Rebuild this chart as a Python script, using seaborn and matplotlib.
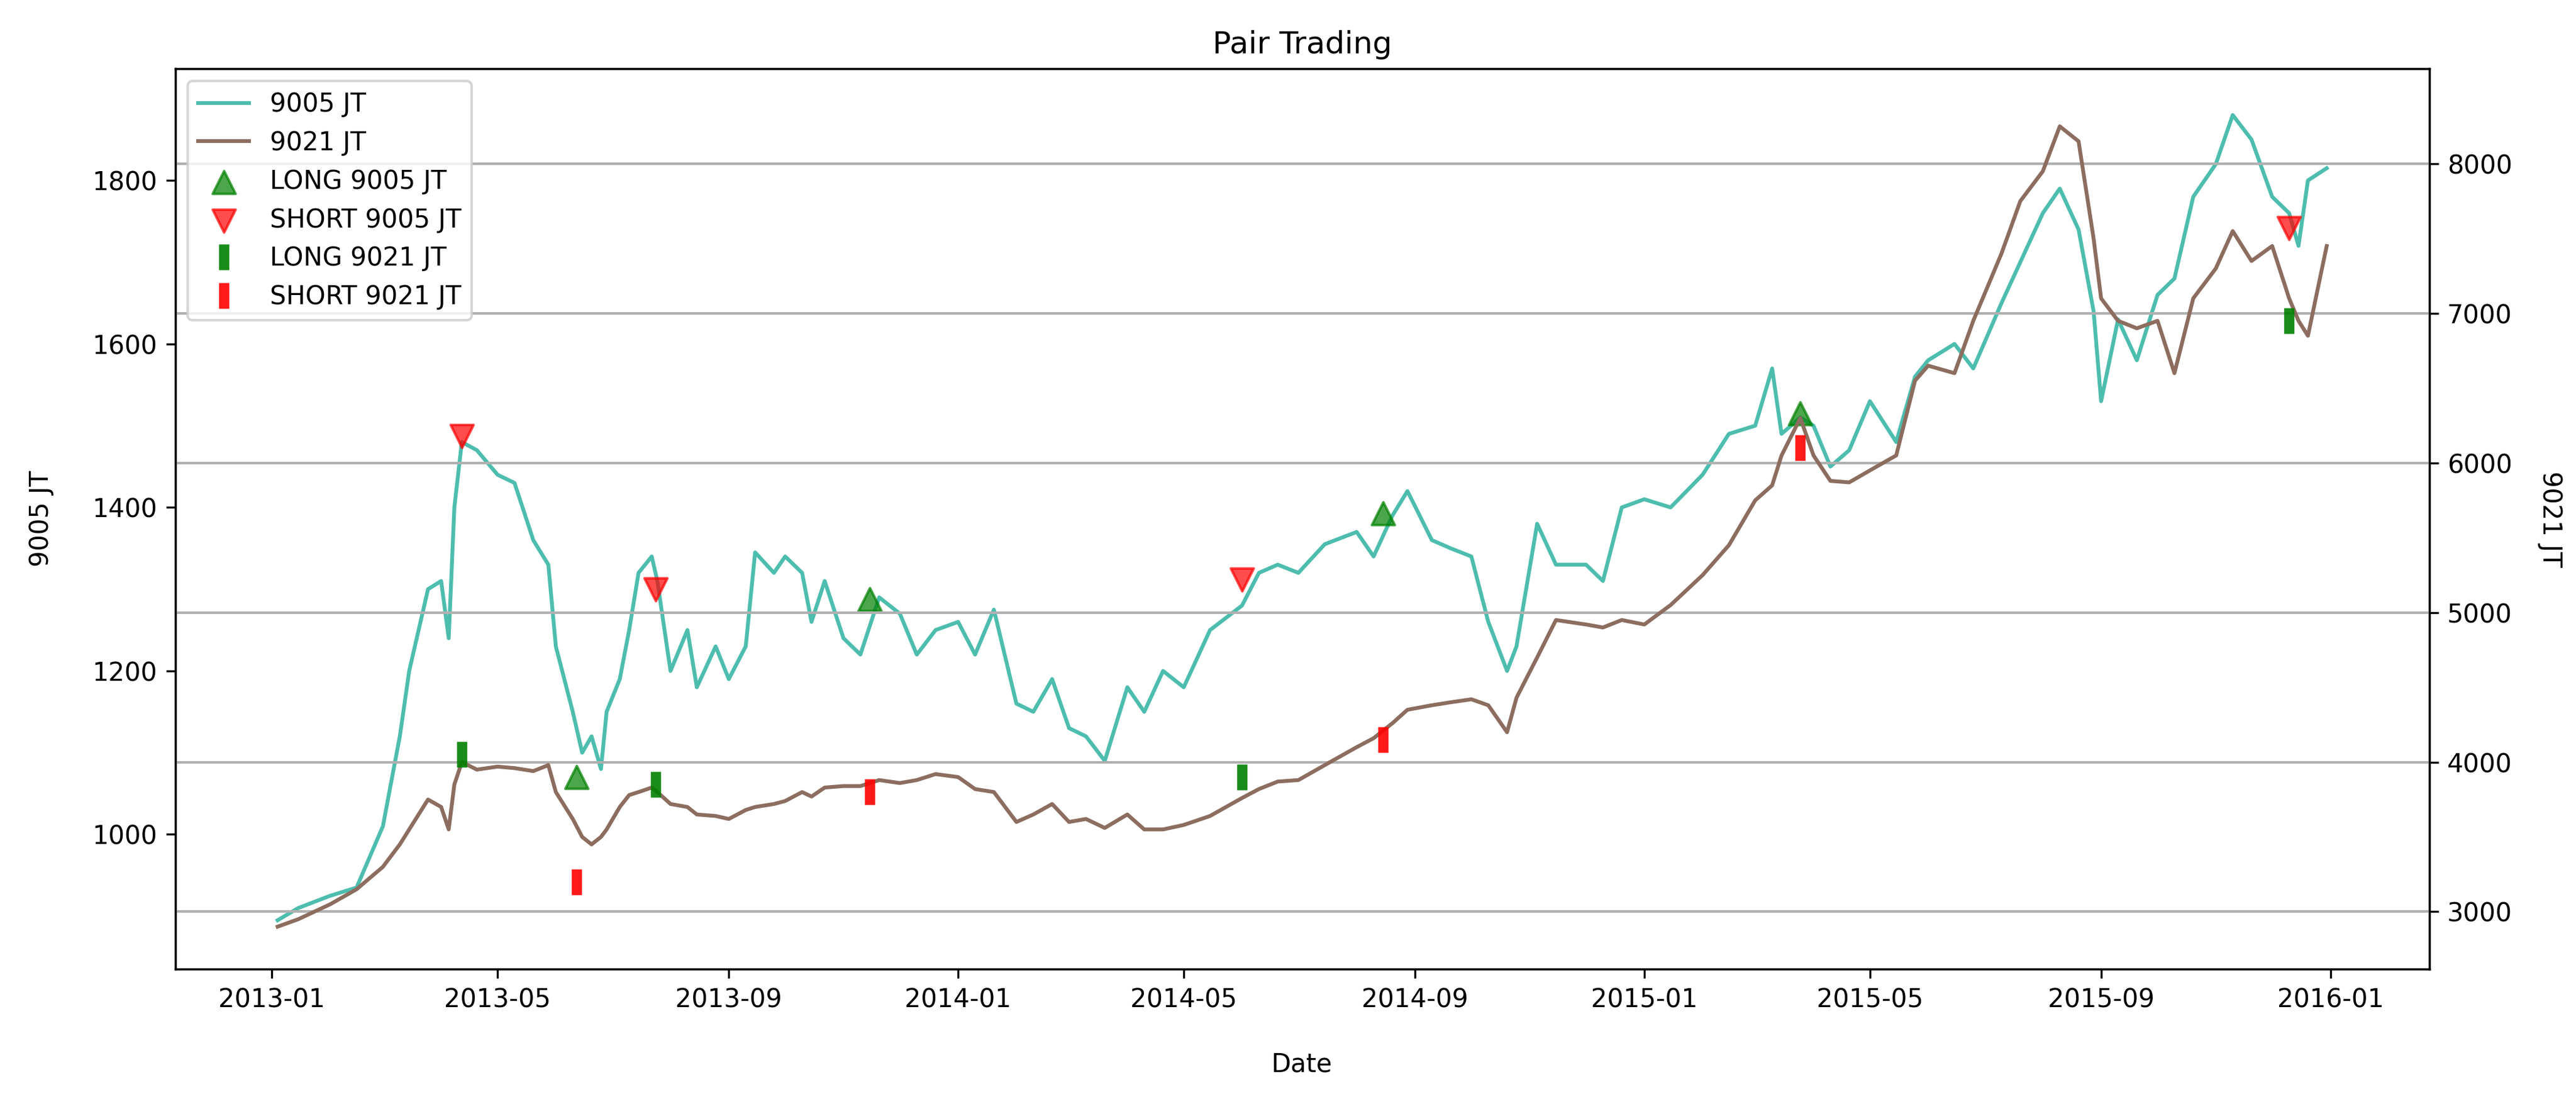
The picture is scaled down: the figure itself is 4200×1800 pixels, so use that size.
import matplotlib
matplotlib.use("Agg")
import matplotlib.pyplot as plt
import seaborn as sns
import pandas as pd

dates = ["2013-01-04","2013-01-15","2013-02-01","2013-02-15","2013-03-01","2013-03-10","2013-03-15","2013-03-25",
"2013-04-01","2013-04-05","2013-04-08","2013-04-12","2013-04-20","2013-05-01","2013-05-10","2013-05-20","2013-05-28",
"2013-06-01","2013-06-10","2013-06-15","2013-06-20","2013-06-25","2013-06-28","2013-07-05","2013-07-10","2013-07-15",
"2013-07-22","2013-07-25","2013-08-01","2013-08-10","2013-08-15","2013-08-25","2013-09-01","2013-09-10","2013-09-15",
"2013-09-25","2013-10-01","2013-10-10","2013-10-15","2013-10-22","2013-11-01","2013-11-10","2013-11-20","2013-12-01",
"2013-12-10","2013-12-20","2014-01-01","2014-01-10","2014-01-20","2014-02-01","2014-02-10","2014-02-20","2014-03-01",
"2014-03-10","2014-03-20","2014-04-01","2014-04-10","2014-04-20","2014-05-01","2014-05-15","2014-06-01","2014-06-10",
"2014-06-20","2014-07-01","2014-07-15","2014-08-01","2014-08-10","2014-08-20","2014-08-28","2014-09-10","2014-09-20",
"2014-10-01","2014-10-10","2014-10-20","2014-10-25","2014-11-05","2014-11-15","2014-12-01","2014-12-10","2014-12-20",
"2015-01-01","2015-01-15","2015-02-01","2015-02-15","2015-03-01","2015-03-10","2015-03-15","2015-03-25","2015-04-01",
"2015-04-10","2015-04-20","2015-05-01","2015-05-15","2015-05-25","2015-06-01","2015-06-15","2015-06-25","2015-07-10",
"2015-07-20","2015-08-01","2015-08-10","2015-08-20","2015-08-28","2015-09-01","2015-09-10","2015-09-20","2015-10-01",
"2015-10-10","2015-10-20","2015-11-01","2015-11-10","2015-11-20","2015-12-01","2015-12-10","2015-12-15","2015-12-20",
"2015-12-30"]

price_9005 = [895,910,925,935,1010,1120,1200,1300,1310,1240,1400,1480,1470,1440,1430,1360,1330,
1230,1150,1100,1120,1080,1150,1190,1250,1320,1340,1310,1200,1250,1180,1230,1190,1230,1345,
1320,1340,1320,1260,1310,1240,1220,1290,1270,1220,1250,1260,1220,1275,1160,1150,1190,1130,
1120,1090,1180,1150,1200,1180,1250,1280,1320,1330,1320,1355,1370,1340,1390,1420,1360,1350,
1340,1260,1200,1230,1380,1330,1330,1310,1400,1410,1400,1440,1490,1500,1570,1490,1510,1500,
1450,1470,1530,1480,1560,1580,1600,1570,1650,1700,1760,1790,1740,1640,1530,1630,1580,1660,
1680,1780,1820,1880,1850,1780,1760,1720,1800,1815]

price_9021 = [2900,2950,3050,3150,3300,3450,3550,3750,3700,3550,3850,4000,3950,3970,3960,3940,3980,
3800,3620,3500,3450,3500,3550,3700,3780,3800,3830,3800,3720,3700,3650,3640,3620,3680,3700,
3720,3740,3800,3770,3830,3840,3840,3880,3860,3880,3920,3900,3820,3800,3600,3650,3720,3600,
3620,3560,3650,3550,3550,3580,3640,3760,3820,3870,3880,3980,4100,4160,4260,4350,4380,4400,
4420,4380,4200,4430,4700,4950,4920,4900,4950,4920,5050,5250,5450,5750,5850,6050,6300,6050,
5880,5870,5950,6050,6550,6650,6600,6950,7400,7750,7950,8250,8150,7500,7100,6950,6900,6950,
6600,7100,7300,7550,7350,7450,7100,6950,6850,7450]

long_9005_dates = ["2013-06-12","2013-11-15","2014-08-15","2015-03-25"]
long_9005_vals = [1070,1288,1393,1515]
short_9005_dates = ["2013-04-12","2013-07-24","2014-06-01","2015-12-10"]
short_9005_vals = [1487,1300,1312,1742]
long_9021_dates = ["2013-04-12","2013-07-24","2014-06-01","2015-12-10"]
long_9021_vals = [4050,3850,3900,6950]
short_9021_dates = ["2013-06-12","2013-11-15","2014-08-15","2015-03-25"]
short_9021_vals = [3200,3800,4150,6100]

df = pd.DataFrame({"date": pd.to_datetime(dates), "a": price_9005, "b": price_9021})

c1 = "#4DBDAE"
c2 = "#8C6D5F"

fig, ax = plt.subplots(figsize=(14, 6), dpi=300)
fig.subplots_adjust(left=0.068, right=0.943, top=0.938, bottom=0.122)
ax2 = ax.twinx()

sns.lineplot(data=df, x="date", y="a", ax=ax, color=c1, lw=1.5, label="9005 JT", legend=False)
sns.lineplot(data=df, x="date", y="b", ax=ax2, color=c2, lw=1.5, label="9021 JT", legend=False)

h3 = ax.scatter(pd.to_datetime(long_9005_dates), long_9005_vals, marker="^", s=80, color="green", alpha=0.7, label="LONG 9005 JT", zorder=5)
h4 = ax.scatter(pd.to_datetime(short_9005_dates), short_9005_vals, marker="v", s=80, color="red", alpha=0.7, label="SHORT 9005 JT", zorder=5)
h5, = ax2.plot(pd.to_datetime(long_9021_dates), long_9021_vals, ls="none", marker="|", ms=10, mew=4, color="green", label="LONG 9021 JT", alpha=0.9)
h6, = ax2.plot(pd.to_datetime(short_9021_dates), short_9021_vals, ls="none", marker="|", ms=10, mew=4, color="red", label="SHORT 9021 JT", alpha=0.9)

ax.set_ylim(835, 1937)
ax2.set_ylim(2615, 8637)
ax2.grid(True, color="#b0b0b0", lw=1)
ax.set_title("Pair Trading")
ax.set_xlabel("Date", labelpad=15)
ax.set_ylabel("9005 JT", labelpad=15)
ax2.set_ylabel("9021 JT", rotation=270, labelpad=20)

l1 = ax.get_lines()[0]
l2 = ax2.get_lines()[0]
ax2.legend([l1, l2, h3, h4, h5, h6], ["9005 JT", "9021 JT", "LONG 9005 JT", "SHORT 9005 JT", "LONG 9021 JT", "SHORT 9021 JT"], loc="upper left")

fig.savefig("out.png", dpi=300)
